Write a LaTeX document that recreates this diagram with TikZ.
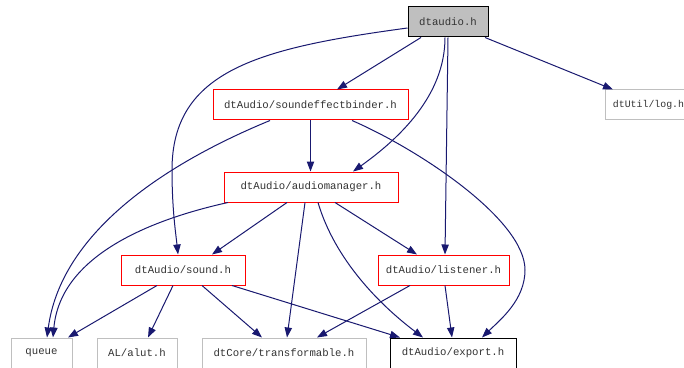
\documentclass[tikz,border=0pt]{standalone}
\usepackage{fontspec}
\setmonofont{Liberation Mono}
\usetikzlibrary{arrows.meta,calc}
\definecolor{edgeblue}{HTML}{191970}
\definecolor{boxgray}{HTML}{BFBFBF}
\definecolor{txtgray}{HTML}{333333}
\tikzset{
  hbox/.style={draw, line width=0.75pt, minimum height=22.5pt, inner sep=0pt,
    font=\ttfamily\fontsize{8pt}{9pt}\selectfont, text=txtgray, anchor=center},
  redbox/.style={hbox, draw=red},
  graybox/.style={hbox, draw=boxgray},
  blackbox/.style={hbox, draw=black},
  dep/.style={draw=edgeblue, line width=0.75pt, -{Triangle[length=7.5pt,width=5.5pt]}, edgeblue},
}
\begin{document}
\begin{tikzpicture}[x=0.75pt,y=-0.75pt]
\useasboundingbox[fill=white] (0,0) rectangle (684,367);
\node[blackbox, fill=boxgray, minimum width=60pt] (dtaudio) at (448,22) {dtaudio.h};
\node[graybox, minimum width=65.25pt, font=\ttfamily\fontsize{7.4pt}{9pt}\selectfont] (log) at (648.5,105) {dtUtil/log.h};
\node[redbox, minimum width=146.25pt] (sfb) at (310.5,105) {dtAudio/soundeffectbinder.h};
\node[redbox, minimum width=130.5pt] (am) at (311,187) {dtAudio/audiomanager.h};
\node[redbox, minimum width=93pt] (sound) at (183,270) {dtAudio/sound.h};
\node[redbox, minimum width=98.25pt] (listener) at (443.5,270) {dtAudio/listener.h};
\node[graybox, minimum width=45.75pt] (queue) at (41.5,353) {queue};
\node[graybox, minimum width=60pt] (alut) at (137,353) {AL/alut.h};
\node[graybox, minimum width=123pt] (trans) at (284,353) {dtCore/transformable.h};
\node[blackbox, minimum width=94.5pt] (export) at (453,353) {dtAudio/export.h};

% from dtaudio.h
\draw[dep] ($(dtaudio.south)+(-27,0)$) -- ($(sfb.north)+(26.5,0)$);
\draw[dep] ($(dtaudio.south)+(37,0)$) -- ($(log.north)+(-35.5,0)$);
\draw[dep] ($(dtaudio.south)+(-3,0)$) .. controls (445,95) and (400,138) .. ($(am.north)+(42,0)$);
\draw[dep] (dtaudio.south) -- ($(listener.north)+(1.5,0)$);
\draw[dep] ($(dtaudio.west)+(0,6)$) .. controls (260,48) and (172,70) .. (172,170)
  .. controls (172,210) and (176,235) .. ($(sound.north)+(-5,0)$);

% from soundeffectbinder.h
\draw[dep] (sfb.south) -- (sfb.south |- am.north);
\draw[dep] ($(sfb.south)+(-40.5,0)$) .. controls (150,170) and (60,240) .. ($(queue.north)+(5.5,0)$);
\draw[dep] ($(sfb.south)+(41.5,0)$) .. controls (420,150) and (525,220) .. (525,270)
  .. controls (525,300) and (500,320) .. ($(export.north)+(29,0)$);

% from audiomanager.h
\draw[dep] ($(am.south)+(-83,0)$) .. controls (140,222) and (60,260) .. ($(queue.north)+(11.5,0)$);
\draw[dep] ($(am.south)+(-24,0)$) -- ($(sound.north)+(29,0)$);
\draw[dep] ($(am.south)+(-6,0)$) -- ($(trans.north)+(3,0)$);
\draw[dep] ($(am.south)+(7,0)$) .. controls (335,260) and (380,305) .. ($(export.north)+(-30,0)$);
\draw[dep] ($(am.south)+(24,0)$) -- ($(listener.north)+(-26.5,0)$);

% from sound.h
\draw[dep] ($(sound.south)+(-26,0)$) -- ($(queue.north)+(26.5,0)$);
\draw[dep] ($(sound.south)+(-10,0)$) -- ($(alut.north)+(11,0)$);
\draw[dep] ($(sound.south)+(19,0)$) -- ($(trans.north)+(-22,0)$);
\draw[dep] ($(sound.south)+(49,0)$) -- ($(export.north)+(-53,0)$);

% from listener.h
\draw[dep] ($(listener.south)+(-33.5,0)$) -- ($(trans.north)+(33,0)$);
\draw[dep] ($(listener.south)+(1.5,0)$) -- ($(export.north)+(-1,0)$);
\end{tikzpicture}
\end{document}
